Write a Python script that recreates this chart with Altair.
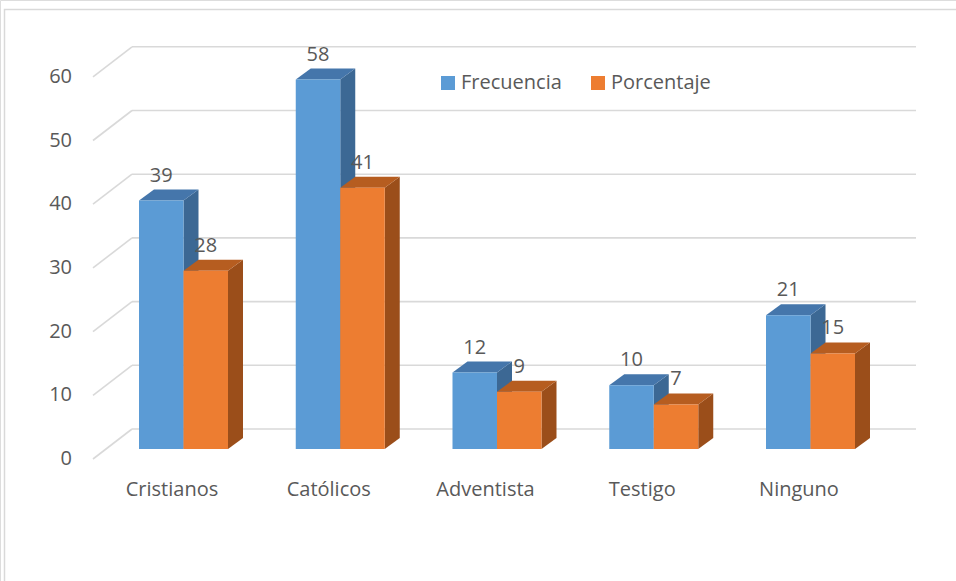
import altair as alt
import pandas as pd

# ---------------- data ----------------
categorias = ["Cristianos", "Católicos", "Adventista", "Testigo", "Ninguno"]
frecuencia = [39, 58, 12, 10, 21]
porcentaje = [28, 41, 9, 7, 15]
series = ["Frecuencia", "Porcentaje"]
ticks = [0, 10, 20, 30, 40, 50, 60]

# ---------------- style ----------------
FRONT = ["#5B9BD5", "#ED7D31"]
TOP = ["#4576AB", "#B65D20"]
SIDE = ["#3C6894", "#9B4E1A"]
GRID = "#D9D9D9"
TEXT = "#595959"
FONT = "Open Sans"
FS = 20

W, H = 956, 581
CAT0_PX, CAT_STEP_PX = 183.5, 156.75   # layout of category slots
ZERO_PX, UNIT_PX = 449.0, 6.37          # layout of value axis (bar plane)


def X(px):
    return (px - CAT0_PX) / CAT_STEP_PX


def Y(py):
    return (ZERO_PX - py) / UNIT_PX


def DXu(px):
    return px / CAT_STEP_PX


def DYu(px):
    return px / UNIT_PX


BW = DXu(44.5)        # bar width
DX = DXu(15)          # depth, horizontal
DY = DYu(11)          # depth, vertical
FRONT_DY = DYu(10)    # floor front edge below bar plane
BACK_DY = DYu(20)     # back wall above bar plane

xs = alt.Scale(domain=[X(0), X(W)], nice=False, zero=False)
ys = alt.Scale(domain=[Y(H), Y(0)], nice=False, zero=False)

rows = []
for i, c in enumerate(categorias):
    rows.append({"cat": c, "idx": i, "serie": series[0], "s": 0, "value": frecuencia[i]})
    rows.append({"cat": c, "idx": i, "serie": series[1], "s": 1, "value": porcentaje[i]})
bars_df = pd.DataFrame(rows)
ticks_df = pd.DataFrame({"v": ticks})
cats_df = pd.DataFrame({"cat": categorias, "idx": list(range(len(categorias)))})

base = alt.Chart(bars_df).transform_calculate(
    x0=f"datum.idx + (datum.s - 1) * {BW}",
).transform_calculate(
    x1=f"datum.x0 + {BW}",
    xc=f"datum.x0 + {BW / 2}",
    zero="0",
)


def side_layer(k):
    return base.transform_filter(alt.datum.s == k).transform_calculate(
        fx=f"[datum.x1, datum.x1 + {DX}]",
        fy=f"[datum.value, datum.value + {DY}]",
        fy2=f"[0, {DY}]",
    ).transform_flatten(["fx", "fy", "fy2"]).mark_area(
        color=SIDE[k], interpolate="linear", opacity=1
    ).encode(
        x=alt.X("fx:Q", scale=xs, axis=None),
        y=alt.Y("fy:Q", scale=ys, axis=None, stack=None),
        y2="fy2:Q",
        detail="cat:N",
    )


def top_layer(k):
    return base.transform_filter(alt.datum.s == k).transform_calculate(
        tx=f"[datum.x0, datum.x0 + {DX}, datum.x1, datum.x1 + {DX}]",
        ty=f"[datum.value, datum.value + {DY}, datum.value + {DY}, datum.value + {DY}]",
        ty2=f"[datum.value, datum.value, datum.value, datum.value + {DY}]",
    ).transform_flatten(["tx", "ty", "ty2"]).mark_area(
        color=TOP[k], interpolate="linear", opacity=1
    ).encode(
        x=alt.X("tx:Q", scale=xs, axis=None),
        y=alt.Y("ty:Q", scale=ys, axis=None, stack=None),
        y2="ty2:Q",
        detail="cat:N",
    )


front = base.mark_rect().encode(
    x=alt.X("x0:Q", scale=xs, axis=None),
    x2="x1:Q",
    y=alt.Y("value:Q", scale=ys, axis=None),
    y2="zero:Q",
    color=alt.Color(
        "serie:N",
        scale=alt.Scale(domain=series, range=FRONT),
        legend=alt.Legend(
            title=None, orient="none", legendX=438, legendY=73,
            direction="horizontal", columns=2, symbolType="square",
            symbolSize=196, symbolStrokeWidth=0, symbolOpacity=1,
            labelFont=FONT, labelFontSize=FS, labelColor=TEXT,
            labelOffset=3, columnPadding=26, padding=0,
        ),
    ),
)

value_labels = base.mark_text(
    dy=-25, baseline="middle", align="center", font=FONT, fontSize=FS, color=TEXT
).encode(
    x=alt.X("xc:Q", scale=xs, axis=None),
    y=alt.Y("value:Q", scale=ys, axis=None),
    text="value:Q",
)

grid = alt.Chart(ticks_df).transform_calculate(
    xl=f"{X(132)}", xr=f"{X(916)}", yb=f"datum.v + {BACK_DY}"
).mark_rule(color=GRID, strokeWidth=1.6).encode(
    x=alt.X("xl:Q", scale=xs, axis=None), x2="xr:Q",
    y=alt.Y("yb:Q", scale=ys, axis=None),
)

diag = alt.Chart(ticks_df).transform_calculate(
    xf=f"{X(93)}", xb=f"{X(132)}",
    yf=f"datum.v - {FRONT_DY}", yb=f"datum.v + {BACK_DY}",
).mark_rule(color=GRID, strokeWidth=1.6).encode(
    x=alt.X("xf:Q", scale=xs, axis=None), x2="xb:Q",
    y=alt.Y("yf:Q", scale=ys, axis=None), y2="yb:Q",
)

ylabels = alt.Chart(ticks_df).transform_calculate(
    xt=f"{X(72)}", yt=f"datum.v - {FRONT_DY}"
).mark_text(align="right", baseline="middle", font=FONT, fontSize=FS, color=TEXT).encode(
    x=alt.X("xt:Q", scale=xs, axis=None),
    y=alt.Y("yt:Q", scale=ys, axis=None),
    text="v:Q",
)

xlabels = alt.Chart(cats_df).transform_calculate(
    xt=f"datum.idx + {DXu(-11.5)}", yt=f"{Y(490)}"
).mark_text(align="center", baseline="middle", font=FONT, fontSize=FS, color=TEXT).encode(
    x=alt.X("xt:Q", scale=xs, axis=None),
    y=alt.Y("yt:Q", scale=ys, axis=None),
    text="cat:N",
)

border = alt.Chart(pd.DataFrame({"a": [0]})).mark_rect(
    fill=None, fillOpacity=0, stroke=GRID, strokeWidth=1.5
).encode(
    x=alt.value(4.5), x2=alt.value(W + 20), y=alt.value(9.5), y2=alt.value(H + 20)
)

chart = alt.layer(
    border, grid, diag,
    side_layer(0), top_layer(0),
    side_layer(1), top_layer(1),
    front, value_labels, ylabels, xlabels,
).properties(
    width=W, height=H, autosize=alt.AutoSizeParams(type="none"), padding=0
).configure_view(stroke=None).configure(font=FONT)

chart.save("out.html", embed_options={"renderer": "svg", "actions": False})
